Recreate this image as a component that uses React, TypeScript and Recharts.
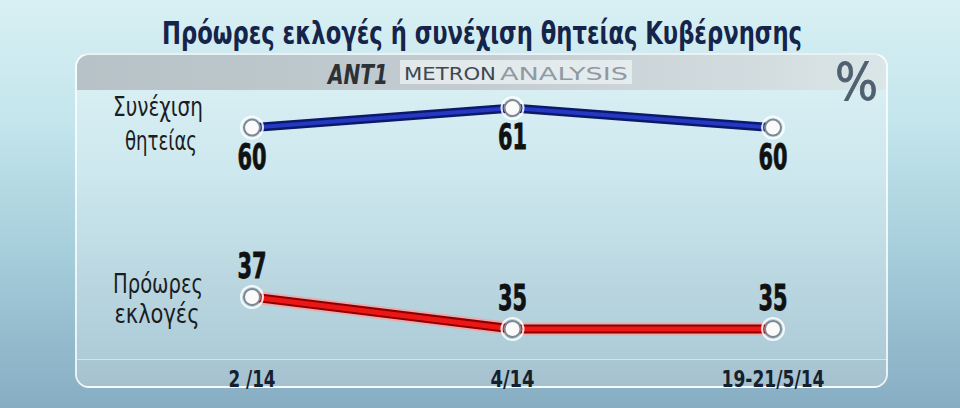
import React from 'react';
import { LineChart, Line, XAxis, YAxis, LabelList } from 'recharts';

// ---- data ----
const categories = ['2 /14', '4/14', '19-21/5/14'];
const continuation = [60, 61, 60];
const earlyElections = [37, 35, 35];
const continuationLabel = ['Συνέχιση', 'θητείας'];
const earlyLabel = ['Πρόωρες', 'εκλογές'];
const titleText = 'Πρόωρες εκλογές ή συνέχιση θητείας Κυβέρνησης';
const unitText = '%';
const logoA = 'ANT1';
const logoB1 = 'METRON';
const logoB2 = 'ANALYSIS';

const data = categories.map((c, i) => ({
  date: c,
  cont: continuation[i],
  early: earlyElections[i],
}));

// ---- styles ----
const COND = "'DejaVu Sans Condensed', 'Liberation Sans Narrow', 'DejaVu Sans', sans-serif";
const tickWidths = [47, 44, 103];

const Dot = (props: any) => {
  const { cx, cy, index } = props;
  if (cx == null || cy == null) return <g key={`d-${index}`} />;
  return (
    <g key={`d-${index}-${cx}`}>
      <circle cx={cx} cy={cy} r={11} fill="none" stroke="#ffffff" strokeOpacity={0.85} strokeWidth={2} />
      <circle cx={cx} cy={cy} r={8} fill="#fafafa" stroke="#7d8891" strokeWidth={2} />
    </g>
  );
};

const makeLabel = (dy: number) => (props: any) => {
  const { x, y, value, index } = props;
  return (
    <text
      key={`l-${index}`}
      x={x}
      y={y + dy}
      textAnchor="middle"
      fontFamily={COND}
      fontWeight="bold"
      fontSize={35}
      fill="#111111"
      textLength={29}
      lengthAdjust="spacingAndGlyphs"
      stroke="#111111"
      strokeWidth={0.8}
    >
      {value}
    </text>
  );
};

const Tick = (props: any) => {
  const { x, y, payload, index } = props;
  return (
    <text
      x={x}
      y={y + 35}
      textAnchor="middle"
      fontFamily={COND}
      fontWeight="bold"
      fontSize={23}
      fill="#15202e"
      textLength={tickWidths[index] ?? 44}
      lengthAdjust="spacingAndGlyphs"
    >
      {payload.value}
    </text>
  );
};

export default function App() {
  return (
    <div
      style={{
        position: 'fixed',
        left: 0,
        top: 0,
        width: 960,
        height: 408,
        overflow: 'hidden',
        background: 'linear-gradient(180deg, #d8f0f4 0%, #c3e5ec 30%, #a8cfdc 60%, #86adc2 100%)',
      }}
    >
      {/* panel */}
      <div
        style={{
          position: 'absolute',
          left: 75,
          top: 53,
          width: 813,
          height: 335,
          boxSizing: 'border-box',
          border: '2px solid rgba(255,255,255,0.75)',
          borderRadius: 14,
          background: 'linear-gradient(180deg, #dcf1f5 0%, #cde8ee 35%, #b9d6e0 70%, #a9c8d5 100%)',
          overflow: 'hidden',
        }}
      >
        <div
          style={{
            position: 'absolute',
            left: 0,
            top: 0,
            right: 0,
            height: 35,
            background: 'linear-gradient(90deg, #b6c2c7 0%, #c3cdd1 50%, #d3dde0 85%, #dbe6e9 100%)',
          }}
        />
        <div
          style={{
            position: 'absolute',
            left: 0,
            bottom: 0,
            right: 0,
            height: 26,
            background: 'linear-gradient(180deg, #abc6d3 0%, #a5c1cf 100%)',
            borderTop: '1px solid rgba(255,255,255,0.55)',
          }}
        />
      </div>

      {/* static texts */}
      <svg width={960} height={408} style={{ position: 'absolute', left: 0, top: 0 }}>
        <text x={162} y={44} fontFamily={COND} fontWeight="bold" fontSize={31} fill="#15244a"
          textLength={640} lengthAdjust="spacingAndGlyphs">{titleText}</text>
        <text x={328} y={84} fontFamily="'DejaVu Sans', sans-serif" fontStyle="italic" fontWeight="bold" fontSize={26}
          fill="#2c3136" textLength={60} lengthAdjust="spacingAndGlyphs">{logoA}</text>
        <rect x={400} y={60} width={232} height={24} fill="#eef3f4" fillOpacity={0.75} />
        <text x={404} y={80} fontFamily="'DejaVu Sans', sans-serif" fontSize={18} fill="#3d4852"
          textLength={92} lengthAdjust="spacingAndGlyphs">{logoB1}</text>
        <text x={500} y={80} fontFamily="'DejaVu Sans', sans-serif" fontSize={18} fill="#8e9ba5"
          textLength={128} lengthAdjust="spacingAndGlyphs">{logoB2}</text>
        <text x={835} y={100} fontFamily={COND} fontSize={52} fill="#4f6170"
          textLength={43} lengthAdjust="spacingAndGlyphs" stroke="#4f6170" strokeWidth={0.8}>{unitText}</text>

        <text x={158} y={116} textAnchor="middle" fontFamily={COND} fontSize={27} fill="#1a1d22"
          textLength={90} lengthAdjust="spacingAndGlyphs">{continuationLabel[0]}</text>
        <text x={161} y={150} textAnchor="middle" fontFamily={COND} fontSize={27} fill="#1a1d22"
          textLength={72} lengthAdjust="spacingAndGlyphs">{continuationLabel[1]}</text>
        <text x={158} y={293} textAnchor="middle" fontFamily={COND} fontSize={27} fill="#1a1d22"
          textLength={90} lengthAdjust="spacingAndGlyphs">{earlyLabel[0]}</text>
        <text x={157} y={323} textAnchor="middle" fontFamily={COND} fontSize={27} fill="#1a1d22"
          textLength={85} lengthAdjust="spacingAndGlyphs">{earlyLabel[1]}</text>
      </svg>

      {/* chart */}
      <div style={{ position: 'absolute', left: 0, top: 0 }}>
        <LineChart
          width={960}
          height={408}
          data={data}
          margin={{ top: 96, right: 187, bottom: 26, left: 252 }}
        >
          <XAxis
            dataKey="date"
            height={30}
            axisLine={false}
            tickLine={false}
            tickSize={0}
            tickMargin={0}
            interval={0}
            padding={{ left: 0, right: 0 }}
            tick={<Tick />}
          />
          <YAxis yAxisId="cont" hide type="number" domain={[48.49, 61.62]} allowDataOverflow />
          <YAxis yAxisId="early" hide type="number" domain={[33.56, 49.56]} allowDataOverflow />

          <Line yAxisId="cont" dataKey="cont" stroke="#0b196a" strokeWidth={9} dot={false}
            activeDot={false} isAnimationActive={false} type="linear" legendType="none" />
          <Line yAxisId="cont" dataKey="cont" stroke="#2538c2" strokeWidth={4} dot={Dot}
            activeDot={false} isAnimationActive={false} type="linear">
            <LabelList dataKey="cont" content={makeLabel(41)} />
          </Line>

          <Line yAxisId="early" dataKey="early" stroke="#ff9a9a" strokeOpacity={0.7} strokeWidth={13} dot={false}
            activeDot={false} isAnimationActive={false} type="linear" legendType="none" />
          <Line yAxisId="early" dataKey="early" stroke="#8a0000" strokeWidth={9} dot={false}
            activeDot={false} isAnimationActive={false} type="linear" legendType="none" />
          <Line yAxisId="early" dataKey="early" stroke="#ec1616" strokeWidth={5} dot={Dot}
            activeDot={false} isAnimationActive={false} type="linear">
            <LabelList dataKey="early" content={makeLabel(-19)} />
          </Line>
        </LineChart>
      </div>
    </div>
  );
}
